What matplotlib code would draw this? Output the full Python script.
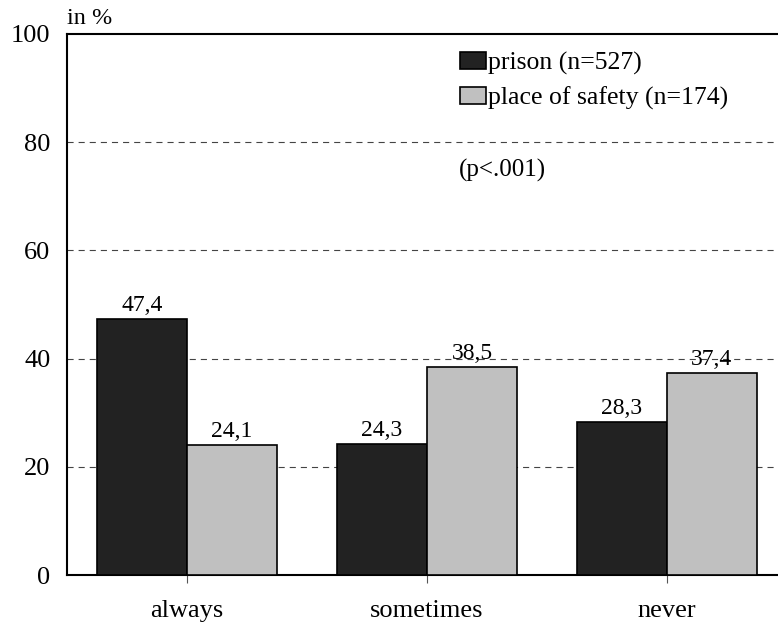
import numpy as np
import matplotlib
matplotlib.use("Agg")
import matplotlib.pyplot as plt

# données
categories = ["always", "sometimes", "never"]
prison = [47.4, 24.3, 28.3]
safety = [24.1, 38.5, 37.4]
labels = ["prison (n=527)", "place of safety (n=174)"]

plt.rcParams["font.family"] = ["Liberation Serif", "DejaVu Serif"]

fig = plt.figure(figsize=(7.78, 6.3), dpi=100)
ax = fig.add_axes([67/778, 55/630, 1 - 67/778, (575-34)/630])

x = np.arange(len(categories))
w = 0.375
b1 = ax.bar(x - w/2, prison, w, color="#222222", edgecolor="black", linewidth=1.2, label=labels[0], zorder=3)
b2 = ax.bar(x + w/2, safety, w, color="#c0c0c0", edgecolor="black", linewidth=1.2, label=labels[1], zorder=3)

for bars, vals in ((b1, prison), (b2, safety)):
    for r, v in zip(bars, vals):
        ax.annotate(f"{v:.1f}".replace(".", ","), (r.get_x() + r.get_width()/2, v),
                    xytext=(0, 2), textcoords="offset points",
                    ha="center", va="bottom", fontsize=17, zorder=4)

ax.set_xlim(-0.5, 2.4625)
ax.set_ylim(0, 100)
ax.set_yticks([0, 20, 40, 60, 80, 100])
ax.set_xticks(x)
ax.set_xticklabels(categories)
ax.tick_params(axis="y", length=0, pad=12, labelsize=19)
ax.tick_params(axis="x", length=6, color="#555555", pad=12, labelsize=19)

for y in [20, 40, 60, 80]:
    ax.axhline(y, color="#444444", linewidth=0.8, dashes=(5.5, 4.5), zorder=1)

for s in ["left", "bottom", "top"]:
    ax.spines[s].set_linewidth(1.5)
    ax.spines[s].set_color("black")
ax.spines["right"].set_visible(False)

ax.legend(loc="upper left", bbox_to_anchor=(460/778, 1 - 52/630),
          bbox_transform=fig.transFigure, frameon=False, fontsize=18.5,
          handlelength=1.0, handleheight=0.6, handletextpad=0.1,
          labelspacing=0.45, borderpad=0, borderaxespad=0)

fig.text(459/778, 1 - 170/630, "(p<.001)", fontsize=18, va="center", ha="left")
fig.text(67/778, 1 - 18/630, "in %", fontsize=17.5, va="center", ha="left")

fig.savefig("out.png", dpi=100)
